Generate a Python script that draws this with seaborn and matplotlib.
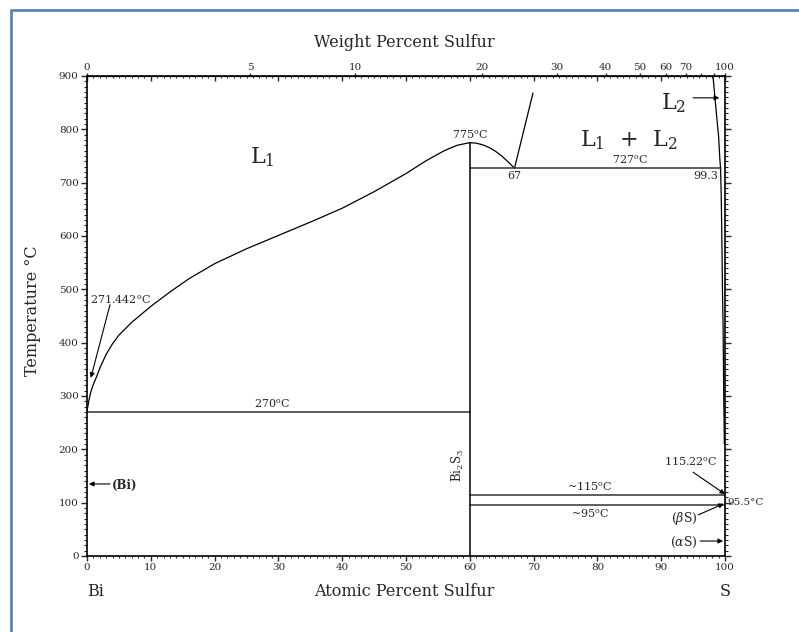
import numpy as np
import matplotlib
matplotlib.use('Agg')
import matplotlib.pyplot as plt
import seaborn as sns
from matplotlib.patches import Rectangle
from matplotlib.ticker import MultipleLocator, FixedLocator

sns.set_style('ticks')
plt.rcParams['font.family'] = ['DejaVu Serif']
plt.rcParams['mathtext.fontset'] = 'dejavuserif'

# ---- data (atomic % S, temperature in C) ----
liq1_x = [0, 0.3, 0.6, 1.0, 1.5, 2.0, 3, 4, 5, 7, 10, 13, 16, 20, 25, 30, 35, 40, 45, 50, 53, 56, 58, 60]
liq1_t = [271.4, 292, 308, 322, 336, 352, 378, 398, 414, 438, 468, 495, 520, 548, 576, 601, 626, 652, 683, 717, 740, 760, 770, 775]

dome_x = [60, 61, 62, 63, 64, 65, 66, 67]
dome_t = [775, 774, 771, 766, 759, 750, 739, 727]

mono_x = [67, 69.9]
mono_t = [727, 868]

liq2_x = [98.1, 98.2, 98.6, 99.0, 99.2, 99.3, 99.4, 99.5, 99.6, 99.7, 99.8, 99.9]
liq2_t = [900, 889, 836, 786, 742, 727, 680, 600, 500, 430, 300, 210]

# invariant lines: (x_start, x_end, temperature)
iso_x0 = [0, 60, 60, 60]
iso_x1 = [60, 99.3, 100, 100]
iso_t = [270, 727, 115.22, 95.5]

compound_x = 60
compound_t = 775

wt_major = [0, 5, 10, 20, 30, 40, 50, 60, 70, 100]
wt_minor = [80, 90]

M_S, M_BI = 32.06, 208.98


def at2wt(a):
    a = np.asarray(a, dtype=float)
    with np.errstate(divide='ignore', invalid='ignore'):
        return 100 * a * M_S / (a * M_S + (100 - a) * M_BI)


def wt2at(w):
    w = np.asarray(w, dtype=float)
    with np.errstate(divide='ignore', invalid='ignore'):
        return 100 * (w / M_S) / (w / M_S + (100 - w) / M_BI)


fig = plt.figure(figsize=(7.99, 6.32), dpi=100)
fig.patch.set_facecolor('white')
fig.patches.append(Rectangle((0.0133, -0.2), 1.5, 1.1842, transform=fig.transFigure,
                             fill=False, edgecolor='#4f81bd', lw=1.9))

ax = fig.add_axes([0.1089, 0.1203, 0.7985, 0.7595])
ax.set_xlim(0, 100)
ax.set_ylim(0, 900)

# curves
line_kw = dict(color='black', lw=0.9, sort=False, estimator=None, legend=False)
sns.lineplot(x=liq1_x, y=liq1_t, ax=ax, **line_kw)
sns.lineplot(x=dome_x, y=dome_t, ax=ax, **line_kw)
sns.lineplot(x=mono_x, y=mono_t, ax=ax, **line_kw)
sns.lineplot(x=liq2_x, y=liq2_t, ax=ax, **line_kw)

for x0, x1, t in zip(iso_x0, iso_x1, iso_t):
    ax.plot([x0, x1], [t, t], color='#333333', lw=1.1)
ax.plot([compound_x, compound_x], [0, compound_t], color='black', lw=1.1)

# axes / ticks
for s in ax.spines.values():
    s.set_linewidth(1.2)
    s.set_color('black')
ax.xaxis.set_major_locator(MultipleLocator(10))
ax.xaxis.set_minor_locator(MultipleLocator(1))
ax.yaxis.set_major_locator(MultipleLocator(100))
ax.yaxis.set_minor_locator(MultipleLocator(10))
ax.tick_params(axis='x', which='both', bottom=True, top=False, direction='out',
               labelsize=7.5, pad=1.5)
ax.tick_params(axis='x', which='major', length=3.6, width=1)
ax.tick_params(axis='x', which='minor', length=1.6, width=0.8)
ax.tick_params(axis='y', which='both', left=True, right=True, direction='out',
               labelright=False, labelsize=7.5, pad=2)
ax.tick_params(axis='y', which='major', length=4, width=1)
ax.tick_params(axis='y', which='minor', length=2, width=0.8)

# inward at.% ticks on top
sec_in = ax.secondary_xaxis('top')
sec_in.xaxis.set_major_locator(MultipleLocator(10))
sec_in.xaxis.set_minor_locator(MultipleLocator(1))
sec_in.tick_params(which='both', direction='in', labeltop=False)
sec_in.tick_params(which='major', length=3.6, width=1)
sec_in.tick_params(which='minor', length=1.6, width=0.8)

# weight percent scale on top
sec_w = ax.secondary_xaxis('top', functions=(at2wt, wt2at))
sec_w.xaxis.set_major_locator(FixedLocator(wt_major))
sec_w.xaxis.set_minor_locator(FixedLocator(wt_minor))
sec_w.set_xticklabels([str(v) for v in wt_major])
sec_w.tick_params(which='both', direction='out', labelsize=7.5, pad=0.5)
sec_w.tick_params(which='major', length=2.5, width=1)
sec_w.tick_params(which='minor', length=2.5, width=1)

# axis titles
ax.text(0.498, 1.069, 'Weight Percent Sulfur', transform=ax.transAxes,
        ha='center', va='center', fontsize=11.5)
ax.text(0.498, -0.075, 'Atomic Percent Sulfur', transform=ax.transAxes,
        ha='center', va='center', fontsize=11.5)
ax.text(-0.086, 0.51, 'Temperature °C', transform=ax.transAxes, rotation=90,
        ha='center', va='center', fontsize=11.5)
ax.text(0.013, -0.075, 'Bi', transform=ax.transAxes, ha='center', va='center', fontsize=11.5)
ax.text(1.0, -0.075, 'S', transform=ax.transAxes, ha='center', va='center', fontsize=11.5)

# phase labels
ax.text(27.4, 748, 'L$_1$', ha='center', va='center', fontsize=16)
ax.text(85, 780, 'L$_1$  +  L$_2$', ha='center', va='center', fontsize=16)
ax.text(91.9, 849, 'L$_2$', ha='center', va='center', fontsize=16)
ax.text(59.4, 170, 'Bi$_2$S$_3$', rotation=90, ha='right', va='center', fontsize=8.5)

# temperature / composition notes
deg = '$^\\mathrm{o}$C'
ax.text(60, 779, '775' + deg, ha='center', va='bottom', fontsize=8)
ax.text(85.1, 731, '727' + deg, ha='center', va='bottom', fontsize=8)
ax.text(67, 722, '67', ha='center', va='top', fontsize=8)
ax.text(98.9, 722, '99.3', ha='right', va='top', fontsize=8)
ax.text(29, 274, '270' + deg, ha='center', va='bottom', fontsize=8)
ax.text(0.5, 480, '271.442' + deg, ha='left', va='center', fontsize=8)
ax.text(78.8, 119, '~115' + deg, ha='center', va='bottom', fontsize=8)
ax.text(78.8, 91, '~95' + deg, ha='center', va='top', fontsize=8)
ax.text(94.7, 176, '115.22' + deg, ha='center', va='center', fontsize=8)
ax.text(100.3, 100, '95.5°C', ha='left', va='center', fontsize=7.5, clip_on=False)
ax.text(93.6, 71, '($\\beta$S)', ha='center', va='center', fontsize=9)
ax.text(93.6, 26, '($\\alpha$S)', ha='center', va='center', fontsize=9)
ax.text(3.9, 133, '(Bi)', ha='left', va='center', fontsize=8.5, fontweight='bold')

arrow = dict(arrowstyle='-|>', color='black', lw=0.8, mutation_scale=7,
             shrinkA=0, shrinkB=0)
ax.annotate('', xy=(0.6, 334), xytext=(3.6, 471), arrowprops=arrow)
ax.annotate('', xy=(99.1, 859), xytext=(95.0, 859), arrowprops=arrow)
ax.annotate('', xy=(100, 116), xytext=(95.0, 157), arrowprops=arrow)
ax.annotate('', xy=(99.8, 98), xytext=(95.8, 77), arrowprops=arrow)
ax.annotate('', xy=(99.7, 28), xytext=(96.1, 28), arrowprops=arrow)
ax.annotate('', xy=(0.3, 135), xytext=(3.6, 135), arrowprops=arrow)

fig.savefig('out.png', dpi=100)
